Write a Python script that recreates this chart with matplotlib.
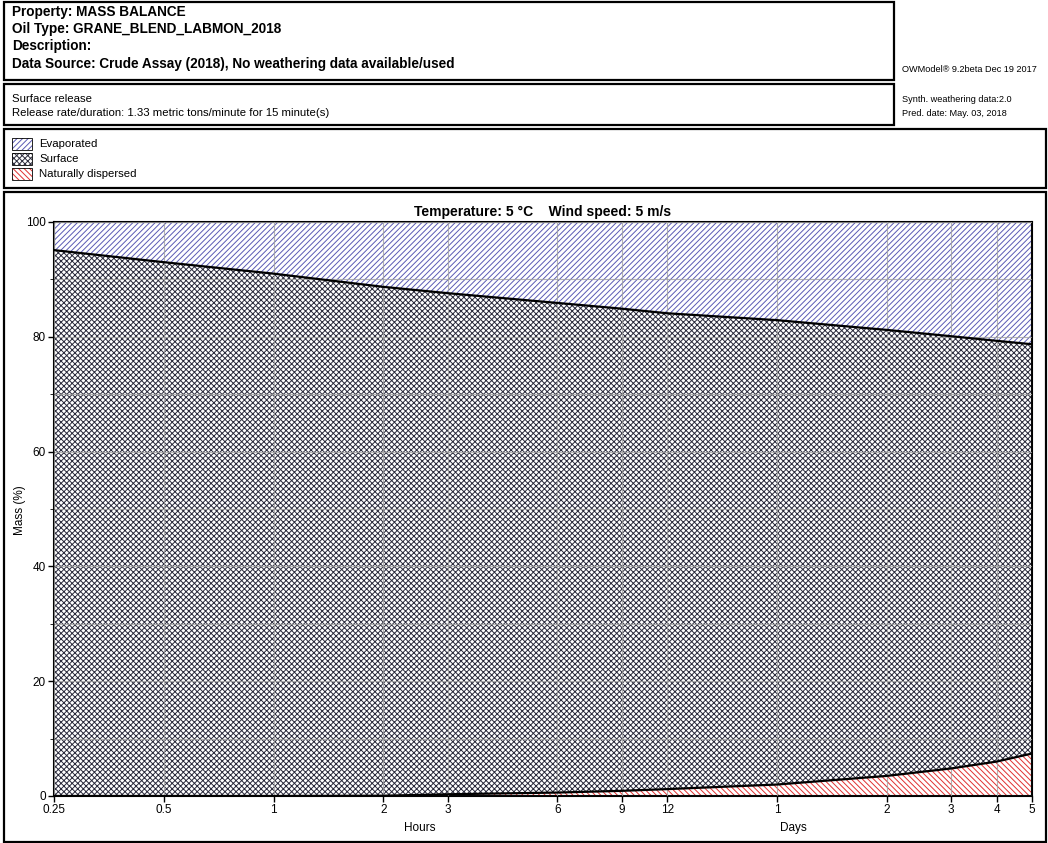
import matplotlib
matplotlib.use("Agg")
import matplotlib.pyplot as plt
from matplotlib.patches import Rectangle
import numpy as np

plt.rcParams['font.family'] = ['Liberation Sans', 'DejaVu Sans']
plt.rcParams['hatch.linewidth'] = 0.7

# time in hours (log axis)
hours = [0.25, 0.5, 1, 2, 3, 6, 9, 12, 24, 48, 72, 96, 120]
# cumulative boundaries (mass %)
dispersed = [0.0, 0.0, 0.0, 0.05, 0.3, 0.6, 0.9, 1.2, 2.0, 3.5, 4.8, 6.0, 7.4]
surface_top = [95.1, 93.0, 91.0, 88.7, 87.6, 85.9, 84.9, 84.1, 82.9, 81.2, 80.1, 79.3, 78.7]

tick_hours = [0.25, 0.5, 1, 2, 3, 6, 9, 12, 24, 48, 72, 96, 120]
tick_labels = ["0.25", "0.5", "1", "2", "3", "6", "9", "12", "1", "2", "3", "4", "5"]

W, H = 1048, 843
fig = plt.figure(figsize=(W / 100, H / 100), dpi=100)


def box(x0, y0, x1, y1, lw=1.6):
    fig.add_artist(Rectangle((x0 / W, 1 - y1 / H), (x1 - x0) / W, (y1 - y0) / H,
                             transform=fig.transFigure, fill=False,
                             edgecolor='black', linewidth=lw))


def txt(x, y, s, **kw):
    fig.text(x / W, 1 - y / H, s, va='center', **kw)


# header boxes
box(4, 2, 894, 80)
box(4, 84, 894, 125)
box(4, 129, 1046, 188)
box(4, 192, 1046, 842)

txt(12, 12, "Property: MASS BALANCE", fontsize=9.8, fontweight='bold')
txt(12, 29, "Oil Type: GRANE_BLEND_LABMON_2018", fontsize=9.8, fontweight='bold')
txt(12, 46, "Description:", fontsize=9.8, fontweight='bold')
txt(12, 64, "Data Source: Crude Assay (2018), No weathering data available/used",
    fontsize=9.8, fontweight='bold')
txt(12, 99, "Surface release", fontsize=8.2)
txt(12, 113, "Release rate/duration: 1.33 metric tons/minute for 15 minute(s)", fontsize=8.2)
txt(902, 70, "OWModel\u00ae 9.2beta Dec 19 2017", fontsize=6.6)
txt(902, 99, "Synth. weathering data:2.0", fontsize=6.6)
txt(902, 113, "Pred. date: May. 03, 2018", fontsize=6.6)

# legend entries
leg = [("Evaporated", '//////', '#5a5ab4'),
       ("Surface", 'xxxxxx', '#303040'),
       ("Naturally dispersed", '\\\\\\\\\\\\', '#e03030')]
for i, (lab, hatch, col) in enumerate(leg):
    yc = 144 + i * 15
    fig.add_artist(Rectangle((12 / W, 1 - (yc + 6) / H), 20 / W, 12 / H,
                             transform=fig.transFigure, facecolor='white',
                             edgecolor=col, hatch=hatch, linewidth=0))
    fig.add_artist(Rectangle((12 / W, 1 - (yc + 6) / H), 20 / W, 12 / H,
                             transform=fig.transFigure, fill=False,
                             edgecolor='black', linewidth=0.6))
    txt(39, yc, lab, fontsize=8.2)

# main axes
ax = fig.add_axes([54 / W, 1 - 796 / H, 978 / W, 574 / H])
ax.set_xscale('log')
ax.set_xlim(0.25, 120)
ax.set_ylim(0, 100)

zero = np.zeros(len(hours))
hundred = np.full(len(hours), 100.0)
ax.fill_between(hours, zero, dispersed, facecolor='white', edgecolor='#e03030',
                hatch='\\\\\\\\\\\\', linewidth=0, zorder=1)
ax.fill_between(hours, dispersed, surface_top, facecolor='white', edgecolor='#2a2a3c',
                hatch='xxxxxx', linewidth=0, zorder=1)
ax.fill_between(hours, surface_top, hundred, facecolor='white', edgecolor='#5a5ab4',
                hatch='//////', linewidth=0, zorder=1)
ax.plot(hours, dispersed, color='black', lw=1.6, zorder=3)
ax.plot(hours, surface_top, color='black', lw=1.6, zorder=3)

ax.set_xticks(tick_hours)
ax.set_xticklabels(tick_labels)
ax.xaxis.set_minor_locator(matplotlib.ticker.NullLocator())
ax.set_yticks([0, 20, 40, 60, 80, 100])
ax.set_yticks(np.arange(10, 100, 20), minor=True)
ax.grid(True, which='both', color='#a0a0a0', lw=0.8, alpha=0.8, zorder=2)
ax.set_axisbelow(False)
ax.tick_params(labelsize=8.5, length=4, width=1, color='black', pad=2)
ax.tick_params(which='minor', length=3)
for sp in ax.spines.values():
    sp.set_linewidth(1.5)

ax.set_title("Temperature: 5 \u00b0C    Wind speed: 5 m/s", fontsize=10,
             fontweight='bold', pad=4)
txt(20, 510, "Mass (%)", fontsize=8.5, ha='center', rotation=90)
txt(420, 828, "Hours", fontsize=8.5, ha='center')
txt(793, 828, "Days", fontsize=8.5, ha='center')

fig.savefig("out.png", dpi=100)
